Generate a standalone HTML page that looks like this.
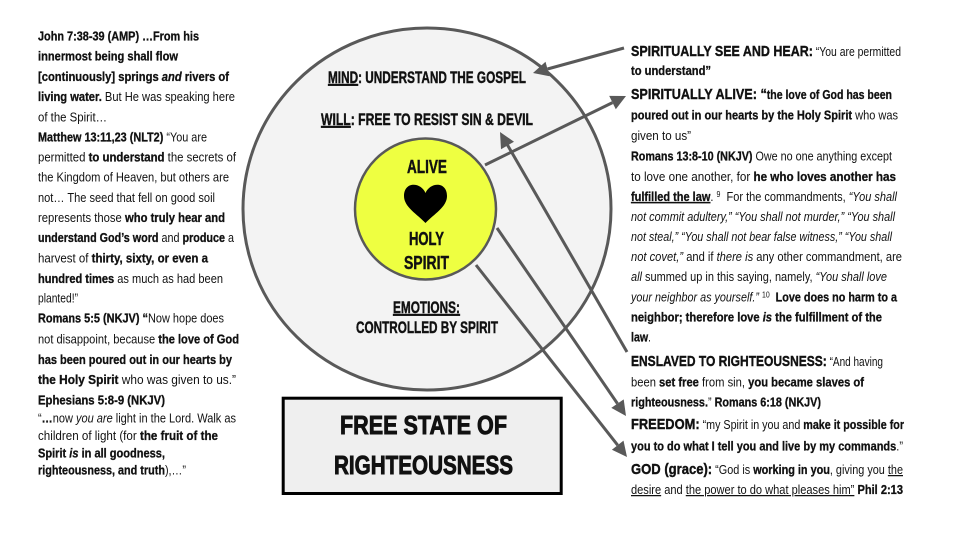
<!DOCTYPE html>
<html><head><meta charset="utf-8">
<style>
html,body{margin:0;padding:0;background:#fff;}
svg{display:block;}
text{font-family:"Liberation Sans Narrow","Liberation Sans",sans-serif;fill:#111;white-space:pre;}
.b{font-weight:bold;stroke:#111;stroke-width:0.3px;}
.i{font-style:italic;}
.u{text-decoration:underline;}
.t{font-size:12.5px;}
.h{font-size:15px;font-weight:bold;stroke:#111;stroke-width:0.4px;}
.c{font-size:17px;font-weight:bold;stroke:#111;stroke-width:0.45px;}
.bx{font-size:26px;font-weight:bold;stroke:#111;stroke-width:0.9px;}
</style></head>
<body>
<svg width="960" height="540" viewBox="0 0 960 540" xmlns="http://www.w3.org/2000/svg">
<rect x="0" y="0" width="960" height="540" fill="#ffffff"/>
<!-- outer circle -->
<ellipse cx="427" cy="209" rx="184" ry="181" fill="#f3f3f3" stroke="#595959" stroke-width="3"/>
<!-- inner circle -->
<circle cx="425.5" cy="209" r="70.5" fill="#eeff41" stroke="#595959" stroke-width="2.5"/>
<!-- heart -->
<path d="M425.5,193 C421,182 404,181 404,196 C404,207 417,214 425.5,223 C434,214 447,207 447,196 C447,181 430,182 425.5,193 Z" fill="#000"/>

<!-- arrows -->
<g stroke="#595959" stroke-width="3" fill="none">
<line x1="624" y1="48" x2="547.5" y2="69"/>
<line x1="485" y1="165" x2="612.5" y2="102.6"/>
<line x1="627" y1="352" x2="507.5" y2="145"/>
<line x1="497" y1="228" x2="617.5" y2="403.6"/>
<line x1="476" y1="265" x2="617.7" y2="445.2"/>
</g>
<g fill="#595959">
<polygon points="533,73 549.5,76.2 545.5,61.8"/>
<polygon points="626,96 615.8,109.3 609.2,95.9"/>
<polygon points="500,132 514,141.7 501,149.2"/>
<polygon points="626,416 623.7,399.4 611.3,407.9"/>
<polygon points="627,457 623.5,440.6 611.9,449.8"/>
</g>

<!-- circle labels -->
<text class="c" x="328" y="83" textLength="198" lengthAdjust="spacingAndGlyphs"><tspan class="u">MIND</tspan>: UNDERSTAND THE GOSPEL</text>
<text class="c" x="321" y="125" textLength="212" lengthAdjust="spacingAndGlyphs"><tspan class="u">WILL</tspan>: FREE TO RESIST SIN &amp; DEVIL</text>
<text class="c" x="393" y="313" textLength="67" lengthAdjust="spacingAndGlyphs"><tspan class="u">EMOTIONS:</tspan></text>
<text class="c" x="356" y="333" textLength="142" lengthAdjust="spacingAndGlyphs">CONTROLLED BY SPIRIT</text>
<text class="c" style="font-size:18px" x="407" y="173" textLength="40" lengthAdjust="spacingAndGlyphs">ALIVE</text>
<text class="c" style="font-size:18px" x="409" y="245" textLength="35" lengthAdjust="spacingAndGlyphs">HOLY</text>
<text class="c" style="font-size:18px" x="404" y="269" textLength="45" lengthAdjust="spacingAndGlyphs">SPIRIT</text>

<!-- box -->
<rect x="283.2" y="398.2" width="278" height="95.3" fill="#efefef" stroke="#000" stroke-width="3"/>
<text class="bx" x="340" y="434" textLength="167" lengthAdjust="spacingAndGlyphs">FREE STATE OF</text>
<text class="bx" x="334" y="474" textLength="179" lengthAdjust="spacingAndGlyphs">RIGHTEOUSNESS</text>

<!-- left column -->
<g>
<text class="t" x="38" y="40.7" textLength="161" lengthAdjust="spacingAndGlyphs"><tspan class="b">John 7:38-39 (AMP) …From his</tspan></text>
<text class="t" x="38" y="60.7" textLength="140" lengthAdjust="spacingAndGlyphs"><tspan class="b">innermost being shall flow</tspan></text>
<text class="t" x="38" y="81" textLength="191" lengthAdjust="spacingAndGlyphs"><tspan class="b">[continuously] springs </tspan><tspan class="b i">and</tspan><tspan class="b"> rivers of</tspan></text>
<text class="t" x="38" y="101" textLength="197" lengthAdjust="spacingAndGlyphs"><tspan class="b">living water.</tspan> But He was speaking here</text>
<text class="t" x="38" y="121.5" textLength="69" lengthAdjust="spacingAndGlyphs">of the Spirit…</text>
<text class="t" x="38" y="141.5" textLength="169" lengthAdjust="spacingAndGlyphs"><tspan class="b">Matthew 13:11,23 (NLT2)</tspan> “You are</text>
<text class="t" x="38" y="161.5" textLength="198" lengthAdjust="spacingAndGlyphs">permitted <tspan class="b">to understand</tspan> the secrets of</text>
<text class="t" x="38" y="181.5" textLength="191" lengthAdjust="spacingAndGlyphs">the Kingdom of Heaven, but others are</text>
<text class="t" x="38" y="202" textLength="177" lengthAdjust="spacingAndGlyphs">not… The seed that fell on good soil</text>
<text class="t" x="38" y="222" textLength="187" lengthAdjust="spacingAndGlyphs">represents those <tspan class="b">who truly hear and</tspan></text>
<text class="t" x="38" y="242" textLength="196" lengthAdjust="spacingAndGlyphs"><tspan class="b">understand God’s word</tspan> and <tspan class="b">produce</tspan> a</text>
<text class="t" x="38" y="262.5" textLength="170" lengthAdjust="spacingAndGlyphs">harvest of <tspan class="b">thirty, sixty, or even a</tspan></text>
<text class="t" x="38" y="283" textLength="185" lengthAdjust="spacingAndGlyphs"><tspan class="b">hundred times</tspan> as much as had been</text>
<text class="t" x="38" y="302.5" textLength="40" lengthAdjust="spacingAndGlyphs">planted!”</text>
<text class="t" x="38" y="322.5" textLength="186" lengthAdjust="spacingAndGlyphs"><tspan class="b">Romans 5:5 (NKJV) “</tspan>Now hope does</text>
<text class="t" x="38" y="343.5" textLength="201" lengthAdjust="spacingAndGlyphs">not disappoint, because <tspan class="b">the love of God</tspan></text>
<text class="t" x="38" y="364" textLength="194" lengthAdjust="spacingAndGlyphs"><tspan class="b">has been poured out in our hearts by</tspan></text>
<text class="t" x="38" y="384" textLength="198" lengthAdjust="spacingAndGlyphs"><tspan class="b">the Holy Spirit</tspan> who was given to us.”</text>
<text class="t" x="38" y="404.5" textLength="127" lengthAdjust="spacingAndGlyphs"><tspan class="b">Ephesians 5:8-9 (NKJV)</tspan></text>
<text class="t" x="38" y="422.5" textLength="198" lengthAdjust="spacingAndGlyphs">“<tspan class="b">…</tspan>now <tspan class="i">you are</tspan> light in the Lord. Walk as</text>
<text class="t" x="38" y="440" textLength="180" lengthAdjust="spacingAndGlyphs">children of light (for <tspan class="b">the fruit of the</tspan></text>
<text class="t" x="38" y="457.5" textLength="127" lengthAdjust="spacingAndGlyphs"><tspan class="b">Spirit </tspan><tspan class="b i">is</tspan><tspan class="b"> in all goodness,</tspan></text>
<text class="t" x="38" y="474.5" textLength="148" lengthAdjust="spacingAndGlyphs"><tspan class="b">righteousness, and truth</tspan>),…”</text>
</g>

<!-- right column -->
<g>
<text class="t" x="631" y="56" textLength="270" lengthAdjust="spacingAndGlyphs"><tspan class="h">SPIRITUALLY SEE AND HEAR:</tspan> “You are permitted</text>
<text class="t" x="631" y="75" textLength="80" lengthAdjust="spacingAndGlyphs"><tspan class="b">to understand”</tspan></text>
<text class="t" x="631" y="99" textLength="261" lengthAdjust="spacingAndGlyphs"><tspan class="h">SPIRITUALLY ALIVE: “</tspan><tspan class="b">the love of God has been</tspan></text>
<text class="t" x="631" y="119.5" textLength="267" lengthAdjust="spacingAndGlyphs"><tspan class="b">poured out in our hearts by the Holy Spirit</tspan> who was</text>
<text class="t" x="631" y="140" textLength="60" lengthAdjust="spacingAndGlyphs">given to us”</text>
<text class="t" x="631" y="160.5" textLength="261" lengthAdjust="spacingAndGlyphs"><tspan class="b">Romans 13:8-10 (NKJV)</tspan> Owe no one anything except</text>
<text class="t" x="631" y="181" textLength="265" lengthAdjust="spacingAndGlyphs">to love one another, for <tspan class="b">he who loves another has</tspan></text>
<text class="t" x="631" y="201" textLength="266" lengthAdjust="spacingAndGlyphs"><tspan class="b u">fulfilled the law</tspan>. <tspan style="font-size:8px" baseline-shift="super">9</tspan>  For the commandments, <tspan class="i">“You shall</tspan></text>
<text class="t" x="631" y="221" textLength="264" lengthAdjust="spacingAndGlyphs"><tspan class="i">not commit adultery,” “You shall not murder,” “You shall</tspan></text>
<text class="t" x="631" y="241" textLength="261" lengthAdjust="spacingAndGlyphs"><tspan class="i">not steal,” “You shall not bear false witness,” “You shall</tspan></text>
<text class="t" x="631" y="261" textLength="271" lengthAdjust="spacingAndGlyphs"><tspan class="i">not covet,”</tspan> and if <tspan class="i">there is</tspan> any other commandment, are</text>
<text class="t" x="631" y="281" textLength="256" lengthAdjust="spacingAndGlyphs"><tspan class="i">all</tspan> summed up in this saying, namely, <tspan class="i">“You shall love</tspan></text>
<text class="t" x="631" y="301.5" textLength="266" lengthAdjust="spacingAndGlyphs"><tspan class="i">your neighbor as yourself.”</tspan> <tspan style="font-size:8px" baseline-shift="super">10</tspan>  <tspan class="b">Love does no harm to a</tspan></text>
<text class="t" x="631" y="321.5" textLength="251" lengthAdjust="spacingAndGlyphs"><tspan class="b">neighbor; therefore love </tspan><tspan class="b i">is</tspan><tspan class="b"> the fulfillment of the</tspan></text>
<text class="t" x="631" y="341.5" textLength="20" lengthAdjust="spacingAndGlyphs"><tspan class="b">law</tspan>.</text>
<text class="t" x="631" y="366" textLength="252" lengthAdjust="spacingAndGlyphs"><tspan class="h">ENSLAVED TO RIGHTEOUSNESS:</tspan> “And having</text>
<text class="t" x="631" y="386.5" textLength="233" lengthAdjust="spacingAndGlyphs">been <tspan class="b">set free</tspan> from sin, <tspan class="b">you became slaves of</tspan></text>
<text class="t" x="631" y="406.5" textLength="190" lengthAdjust="spacingAndGlyphs"><tspan class="b">righteousness.</tspan>” <tspan class="b">Romans 6:18 (NKJV)</tspan></text>
<text class="t" x="631" y="429" textLength="273" lengthAdjust="spacingAndGlyphs"><tspan class="h">FREEDOM:</tspan> “my Spirit in you and <tspan class="b">make it possible for</tspan></text>
<text class="t" x="631" y="450.5" textLength="272" lengthAdjust="spacingAndGlyphs"><tspan class="b">you to do what I tell you and live by my commands</tspan>.”</text>
<text class="t" x="631" y="474" textLength="272" lengthAdjust="spacingAndGlyphs"><tspan class="h">GOD (grace):</tspan> “God is <tspan class="b">working in you</tspan>, giving you <tspan class="u">the</tspan></text>
<text class="t" x="631" y="494" textLength="272" lengthAdjust="spacingAndGlyphs"><tspan class="u">desire</tspan> and <tspan class="u">the power to do what pleases him”</tspan> <tspan class="b">Phil 2:13</tspan></text>
</g>
</svg>
</body></html>
